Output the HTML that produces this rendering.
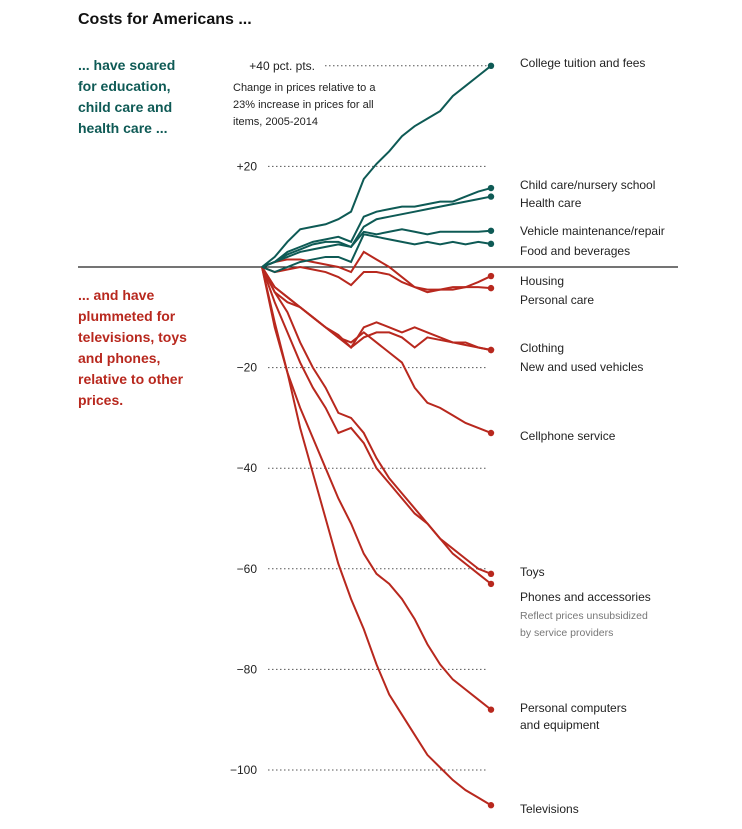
<!DOCTYPE html>
<html><head><meta charset="utf-8">
<style>
body{margin:0;background:#fff;width:742px;height:824px;overflow:hidden;font-family:"Liberation Sans",Arial,sans-serif;}
svg text{font-family:"Liberation Sans",Arial,sans-serif;}
</style></head>
<body>
<svg id="chart" width="742" height="824" xmlns="http://www.w3.org/2000/svg">
<text x="78" y="24" font-size="16" font-weight="bold" fill="#111">Costs for Americans ...</text>
<g font-size="14" font-weight="bold" fill="#0e5a55">
<text x="78" y="70">... have soared</text><text x="78" y="91">for education,</text><text x="78" y="112">child care and</text><text x="78" y="133">health care ...</text></g>
<g font-size="14" font-weight="bold" fill="#b8281e">
<text x="78" y="300">... and have</text><text x="78" y="321">plummeted for</text><text x="78" y="342">televisions, toys</text><text x="78" y="363">and phones,</text><text x="78" y="384">relative to other</text><text x="78" y="405">prices.</text></g>
<g font-size="11" fill="#222">
<text x="233" y="91">Change in prices relative to a</text><text x="233" y="108">23% increase in prices for all</text><text x="233" y="125">items, 2005-2014</text></g>
<g id="grid"></g><g id="series"></g><g id="labels" font-size="12" fill="#222"></g>
</svg>
<script>
const ticks=[40,20,-20,-40,-60,-80,-100];
const tickLabels=["+40 pct. pts.","+20","\u221220","\u221240","\u221260","\u221280","\u2212100"];
const names=["College tuition and fees","Child care/nursery school","Health care","Vehicle maintenance/repair","Food and beverages","Housing","Personal care","Clothing","New and used vehicles","Cellphone service","Toys","Phones and accessories","Personal computers and equipment","Televisions"];
const college=[0,2,5,7.5,8,8.5,9.5,11,17.5,20.5,23,26,28,29.5,31,34,36,38,40];
const childcare=[0,1,3,4,5,5.5,6,5,10,11,11.5,12,12,12.5,13,13,14,15,15.7];
const health=[0,1,2,3,3.5,4,4.5,4,8,9.5,10,10.5,11,11.5,12,12.5,13,13.5,14];
const vehicleMaint=[0,1,2.5,3.5,4.5,5,5,4,7,6.5,7,7.5,7,6.5,7,7,7,7,7.2];
const food=[0,-1,0,1,1.5,2,2,1,6.5,6,5.5,5,4.5,5,4.5,5,4.5,5,4.6];
const housing=[0,1,1.5,1.5,1,0.5,0,-1,3,1.5,0,-2,-4,-4.5,-4.5,-4,-4,-3,-1.8];
const personal=[0,-1,-0.5,0,-0.5,-1,-2,-3.6,-1,-1,-1.5,-3,-4,-5,-4.5,-4.5,-4,-4,-4.2];
const clothing=[0,-5,-7,-8,-10,-12,-14,-16,-12,-11,-12,-13,-12,-13,-14,-15,-15,-16,-16.5];
const newVehicles=[0,-4,-6,-8,-10,-12,-13.5,-16,-14,-13,-13,-14,-16,-14,-14.5,-15,-15.5,-16,-16.5];
const cellphone=[0,-4,-6,-8,-10,-12,-14,-15,-13,-15,-17,-19,-24,-27,-28,-29.5,-31,-32,-33];
const toys=[0,-7,-13,-19,-24,-28,-33,-32,-35,-40,-43,-46,-49,-51,-54,-56,-58,-60,-61];
const phones=[0,-5,-9,-15,-20,-24,-29,-30,-33,-38,-42,-45,-48,-51,-54,-57,-59,-61,-63];
const computers=[0,-11,-21,-28,-34,-40,-46,-51,-57,-61,-63,-66,-70,-75,-79,-82,-84,-86,-88];
const tvs=[0,-12,-21,-32,-41,-50,-59,-66,-72,-79,-85,-89,-93,-97,-99.5,-102,-104,-105.5,-107];
const allSeries=[college,childcare,health,vehicleMaint,food,housing,personal,clothing,newVehicles,cellphone,toys,phones,computers,tvs];
const labelY=[63,185,203,231,251,281,300,348,367,436,572,597,708,809];
const NS="http://www.w3.org/2000/svg";
const X=i=>262+i*(229/18), Y=v=>267-v*5.03;
const grid=document.getElementById('grid');
ticks.forEach((t,k)=>{
 const l=document.createElementNS(NS,'line');
 
 
 l.setAttribute('x1',k==0?325:268);l.setAttribute('x2',488);l.setAttribute('y1',Y(t));l.setAttribute('y2',Y(t));
 l.setAttribute('stroke','#555');l.setAttribute('stroke-dasharray','1.5,2.5');grid.appendChild(l);
 const tx=document.createElementNS(NS,'text');
 
 
 tx.setAttribute('x',k==0?315:257);tx.setAttribute('y',Y(t)+4);tx.setAttribute('text-anchor','end');tx.setAttribute('font-size','12');tx.setAttribute('fill','#222');tx.textContent=tickLabels[k];grid.appendChild(tx);
});
const z=document.createElementNS(NS,'line');


z.setAttribute('x1',78);z.setAttribute('x2',678);z.setAttribute('y1',Y(0));z.setAttribute('y2',Y(0));z.setAttribute('stroke','#222');z.setAttribute('stroke-width','1.3');grid.appendChild(z);
const sg=document.getElementById('series');
for(let s=allSeries.length-1;s>=0;s--){
 const d=allSeries[s],c=s<5?'#0e5a55':'#b8281e';
 const p=document.createElementNS(NS,'path');
 
 
 p.setAttribute('d',d.map((v,i)=>(i?'L':'M')+X(i)+','+Y(v)).join(''));
 p.setAttribute('fill','none');p.setAttribute('stroke',c);p.setAttribute('stroke-width','2');sg.appendChild(p);
 const ci=document.createElementNS(NS,'circle');
 
 
 ci.setAttribute('cx',X(d.length-1));ci.setAttribute('cy',Y(d[d.length-1]));ci.setAttribute('r',3.2);ci.setAttribute('fill',c);sg.appendChild(ci);
}
const lg=document.getElementById('labels');
names.forEach((n,k)=>{
 const parts=n=="Personal computers and equipment"?["Personal computers","and equipment"]:[n];
 parts.forEach((pt,j)=>{
  const t=document.createElementNS(NS,'text');
  
  
  t.setAttribute('x',520);t.setAttribute('y',labelY[k]+4+j*17);t.textContent=pt;lg.appendChild(t);
 });
});
[["Reflect prices unsubsidized",619],["by service providers",636]].forEach(a=>{
 const t=document.createElementNS(NS,'text');
 
 
 t.setAttribute('x',520);t.setAttribute('y',a[1]);t.setAttribute('font-size','10.5');t.setAttribute('fill','#777');t.textContent=a[0];lg.appendChild(t);
});
</script>
</body></html>
